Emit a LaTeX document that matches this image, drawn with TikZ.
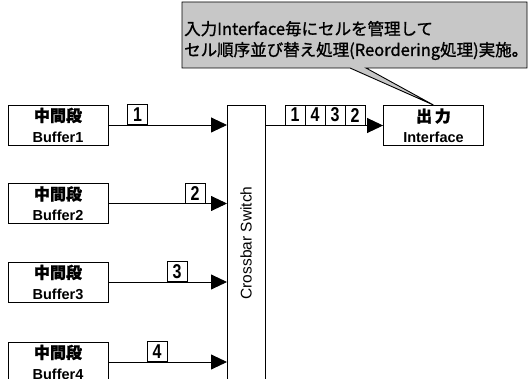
\documentclass[tikz,border=0pt]{standalone}
\usepackage{fontspec}
\usepackage{graphicx}
\setmainfont{Liberation Sans}
\newfontfamily\jp[FakeBold=1.2]{Noto Sans CJK JP}
\usetikzlibrary{arrows.meta}
\newcommand{\jplab}[1]{{\jp\fontsize{16}{21}\selectfont #1}}
\newcommand{\dg}[1]{\scalebox{0.8}[1]{\bfseries #1}}
\tikzset{
  buf/.style={draw, line width=0.9pt, minimum width=100pt, minimum height=40pt, inner sep=0pt, align=center, font=\fontsize{14.5}{20.5}\selectfont\bfseries},
  cell/.style={draw, line width=0.8pt, minimum width=20pt, minimum height=20pt, inner sep=0pt, anchor=south, font=\fontsize{20}{20}\selectfont},
  link/.style={line width=0.9pt, -{Triangle[length=16pt,width=15pt]}},
}
\begin{document}
\begin{tikzpicture}[x=1pt,y=-1pt]
\useasboundingbox (0,0) rectangle (531,379);
\clip (0,0) rectangle (531,379);
% buffers
\node[buf] (b1) at (58,125) {\jplab{中間段}\\Buffer1};
\node[buf] (b2) at (58,203.5) {\jplab{中間段}\\Buffer2};
\node[buf] (b3) at (58,282) {\jplab{中間段}\\Buffer3};
\node[buf] (b4) at (58,362) {\jplab{中間段}\\Buffer4};
% crossbar
\node[draw, line width=0.9pt, minimum width=38pt, minimum height=300pt, anchor=north west, inner sep=0pt] (xb) at (227,105) {};
\node[rotate=90, font=\fontsize{15.5}{16}\selectfont] (xbl) at (246,243) {Crossbar Switch};
% output
\node[buf] (out) at (433.5,125.5) {\jplab{出\,力}\\Interface};
% arrows
\draw[link] (b1.east) -- (xb.west |- b1.east);
\draw[link] (b2.east) -- (xb.west |- b2.east);
\draw[link] (b3.east) -- (xb.west |- b3.east);
\draw[link] (b4.east) -- (xb.west |- b4.east);
\draw[link] (xb.east |- out.west) -- (out.west);
% cells on input lines
\node[cell] (c1) at (137.5,125) {\dg{1}};
\node[cell] (c2) at (195,203.5) {\dg{2}};
\node[cell] (c3) at (177,282) {\dg{3}};
\node[cell] (c4) at (157,362) {\dg{4}};
% cells on output line
\node[cell] (o1) at (295,125.5) {\dg{1}};
\node[cell] (o2) at (315,125.5) {\dg{4}};
\node[cell] (o3) at (335,125.5) {\dg{3}};
\node[cell] (o4) at (355,125.5) {\dg{2}};
% callout
\draw[line width=0.9pt, fill=black!22] (182,2) -- (527,2) -- (527,68) -- (366,68) -- (out.north) -- (350,68) -- (182,68) -- cycle;
\node[anchor=west, align=left, inner sep=0pt, font=\jp\fontsize{16.5}{21}\selectfont] (ct) at (184,40.5) {入力Interface毎にセルを管理して\\セル順序並び替え処理(Reordering処理)実施。};
\end{tikzpicture}
\end{document}
